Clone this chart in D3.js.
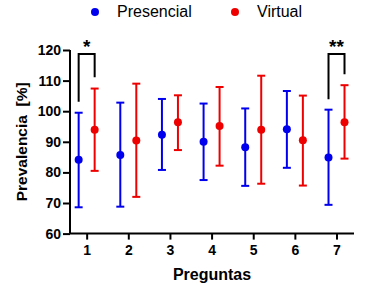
<!DOCTYPE html>
<html>
<head>
<meta charset="utf-8">
<script src="https://cdn.jsdelivr.net/npm/d3@7"></script>
<style>
  body { margin: 0; background: #fff; }
  svg { display: block; font-family: Arial, "Liberation Sans", sans-serif; }
</style>
</head>
<body>
<svg id="chart"></svg>
<script>
// question numbers
const preguntas = [1, 2, 3, 4, 5, 6, 7];
// mean and error range (low/high) per question
const presencialMean = [84.1, 85.7, 92.3, 90.0, 88.2, 94.1, 84.9];
const presencialLow  = [68.6, 68.8, 80.8, 77.5, 75.6, 81.5, 69.4];
const presencialHigh = [99.5, 102.8, 104.0, 102.5, 100.9, 106.6, 100.5];
const virtualMean = [93.9, 90.4, 96.4, 95.2, 93.9, 90.5, 96.4];
const virtualLow  = [80.5, 72.0, 87.3, 82.2, 76.3, 75.7, 84.5];
const virtualHigh = [107.4, 109.0, 105.2, 107.9, 111.6, 105.1, 108.5];
const yTicks = [60, 70, 80, 90, 100, 110, 120];
// significance brackets: question, left foot, right foot, top, label
const sigPregunta = [1, 7];
const sigLeft  = [103.1, 103.9];
const sigRight = [111.1, 112.1];
const sigTop   = [118.7, 118.7];
const sigLabel = ["*", "**"];

const width = 370, height = 290;
const svg = d3.select("#chart").attr("width", width).attr("height", height);

const x = d3.scaleLinear().domain([0.6, 7.42]).range([70, 354]);
const y = d3.scaleLinear().domain([60, 120]).range([233.6, 50]);
const off = 8;

const series = [
  { name: "Presencial", color: "#0000ee", dx: -off, mean: presencialMean, low: presencialLow, high: presencialHigh },
  { name: "Virtual", color: "#ee0000", dx: off, mean: virtualMean, low: virtualLow, high: virtualHigh }
];

// axes
const yAxis = svg.append("g")
  .attr("transform", "translate(70,0)")
  .call(d3.axisLeft(y).tickValues(yTicks).tickSize(7).tickPadding(2));
const xAxis = svg.append("g")
  .attr("transform", `translate(0,${y(60)})`)
  .call(d3.axisBottom(x).tickValues(preguntas).tickSize(6).tickPadding(5).tickFormat(d3.format("d")));

[yAxis, xAxis].forEach(g => {
  g.select(".domain").attr("stroke", "#000").attr("stroke-width", 2);
  g.selectAll(".tick line").attr("stroke", "#000").attr("stroke-width", 2);
  g.selectAll(".tick text").attr("fill", "#000").attr("font-size", 14)
    .attr("font-weight", "bold").attr("font-family", "Arial, 'Liberation Sans', sans-serif");
});
// remove outer tick segments of domain
yAxis.select(".domain").attr("d", `M0,${y(120)}V${y(60)}`);
xAxis.select(".domain").attr("d", `M${x(0.6)},0H${x(7.42)}`);

// error bars and means
series.forEach(s => {
  const g = svg.append("g").attr("stroke", s.color).attr("stroke-width", 2);
  preguntas.forEach((p, i) => {
    const cx = x(p) + s.dx;
    g.append("line").attr("x1", cx).attr("x2", cx).attr("y1", y(s.low[i])).attr("y2", y(s.high[i]));
    g.append("line").attr("x1", cx - 4).attr("x2", cx + 4).attr("y1", y(s.low[i])).attr("y2", y(s.low[i]));
    g.append("line").attr("x1", cx - 4).attr("x2", cx + 4).attr("y1", y(s.high[i])).attr("y2", y(s.high[i]));
  });
  svg.append("g").selectAll("circle").data(preguntas).join("circle")
    .attr("cx", p => x(p) + s.dx)
    .attr("cy", (p, i) => y(s.mean[i]))
    .attr("r", 4)
    .attr("fill", s.color);
});

// significance brackets
sigPregunta.forEach((p, i) => {
  const x1 = x(p) - off, x2 = x(p) + off;
  svg.append("path")
    .attr("d", `M${x1},${y(sigLeft[i])}V${y(sigTop[i])}H${x2}V${y(sigRight[i])}`)
    .attr("fill", "none").attr("stroke", "#000").attr("stroke-width", 2);
  svg.append("text")
    .attr("x", x(p)).attr("y", y(sigTop[i]) - 1)
    .attr("text-anchor", "middle")
    .attr("font-size", 19).attr("font-weight", "bold")
    .text(sigLabel[i]);
});

// legend
const legX = [95, 235];
series.forEach((s, i) => {
  svg.append("circle").attr("cx", legX[i]).attr("cy", 12).attr("r", 4).attr("fill", s.color);
  svg.append("text").attr("x", legX[i] + 22).attr("y", 17)
    .attr("font-size", 16).attr("fill", "#000").text(s.name);
});

// axis titles
svg.append("text")
  .attr("transform", `translate(27,${y(90)}) rotate(-90)`)
  .attr("text-anchor", "middle")
  .attr("font-size", 15.5).attr("font-weight", "bold")
  .attr("xml:space", "preserve")
  .text("Prevalencia  [%]");
svg.append("text")
  .attr("x", 212).attr("y", 280)
  .attr("text-anchor", "middle")
  .attr("font-size", 16).attr("font-weight", "bold")
  .text("Preguntas");
</script>
</body>
</html>
